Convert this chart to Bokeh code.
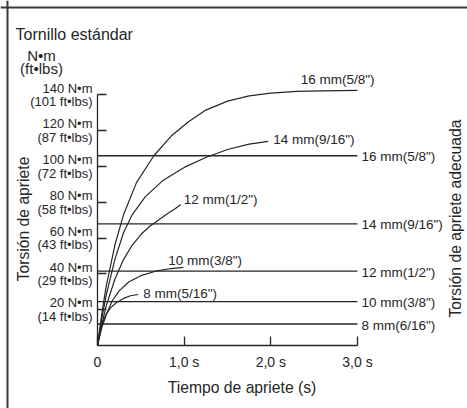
from math import pi
from bokeh.plotting import figure
from bokeh.models import LinearAxis, FixedTicker, Range1d, Label, Span, ColumnDataSource
from bokeh.embed import file_html
from bokeh.resources import INLINE
from bokeh.core.properties import value

# ---------------- data ----------------
title_text = "Tornillo estándar"
unit_top = "N•m"
unit_bottom = "(ft•lbs)"
y_title = "Torsión de apriete"
x_title = "Tiempo de apriete (s)"
right_title = "Torsión de apriete adecuada"

torque_ticks_nm = [20, 40, 60, 80, 100, 120, 140]
torque_ticks_ftlbs = [14, 29, 43, 58, 72, 87, 101]
time_ticks = [0, 1, 2, 3]
time_tick_labels = ["0", "1,0 s", "2,0 s", "3,0 s"]

# adequate torque reference lines
ref_labels = ['16 mm(5/8")', '14 mm(9/16")', '12 mm(1/2")', '10 mm(3/8")', '8 mm(6/16")']
ref_torque = [106, 68, 41.5, 24.5, 12]
ref_time_span = [0.0, 3.0]

# tightening curves (time s, torque N·m)
curve_labels = ['16 mm(5/8")', '14 mm(9/16")', '12 mm(1/2")', '10 mm(3/8")', '8 mm(5/16")']
t16 = [0, 0.05, 0.1, 0.2, 0.3, 0.45, 0.65, 0.85, 1.05, 1.25, 1.5, 1.75, 2.0, 2.3, 2.6, 3.0]
v16 = [0, 18, 33, 56, 73, 91, 106, 117, 125, 131.5, 136.5, 139.5, 141, 142, 142.3, 142.5]
t14 = [0, 0.05, 0.1, 0.2, 0.3, 0.4, 0.55, 0.75, 1.0, 1.25, 1.5, 1.75, 1.97]
v14 = [0, 15, 28, 48, 63, 73, 83, 92, 99.5, 105, 109.5, 112.5, 114]
t12 = [0, 0.05, 0.1, 0.2, 0.3, 0.4, 0.5, 0.6, 0.7, 0.8, 0.9, 0.96]
v12 = [0, 12, 22, 37, 48, 56, 62, 66.5, 70, 73.5, 76.5, 78.8]
t10 = [0, 0.05, 0.1, 0.17, 0.25, 0.36, 0.5, 0.67, 0.85, 0.99]
v10 = [0, 10, 17, 25, 30.5, 35.5, 39, 41.5, 43, 43.6]
t8 = [0, 0.03, 0.06, 0.1, 0.15, 0.22, 0.3, 0.38, 0.47]
v8 = [0, 8, 13, 17.5, 21, 24, 26.3, 27.8, 28.5]

curves_t = [t16, t14, t12, t10, t8]
curves_v = [v16, v14, v12, v10, v8]

# label styling (screen offsets) for curve labels
curve_label_align = ["right", "left", "left", "left", "left"]
curve_label_xoff = [17, 5, 3, -15, 5]
curve_label_yoff = [-11, -2, -5, -7, -1]

# ---------------- layout ----------------
W, H = 467, 408
PX_PER_S = 86.667       # pixels per second
PX_PER_NM = 1.79        # pixels per N·m
X0_PAGE, Y0_PAGE = 97, 345   # page pixel of origin


def dx(page_x):
    return (page_x - X0_PAGE) / PX_PER_S


def dy(page_y):
    return (Y0_PAGE - page_y) / PX_PER_NM


INK = "#262626"
FONT = "Liberation Sans"

p = figure(width=W, height=H, output_backend="svg", toolbar_location=None,
           x_range=Range1d(dx(0), dx(W)), y_range=Range1d(dy(H), dy(0)),
           x_axis_location=None, y_axis_location=None,
           min_border=0, min_border_left=0, min_border_right=0,
           min_border_top=0, min_border_bottom=0)
p.outline_line_color = None
p.xgrid.visible = False
p.ygrid.visible = False
p.background_fill_color = "white"
p.border_fill_color = "white"

# axes
yax = LinearAxis(fixed_location=0, bounds=(0, 140),
                 ticker=FixedTicker(ticks=torque_ticks_nm),
                 major_label_overrides={v: f"{v} N•m\n({f} ft•lbs)"
                                        for v, f in zip(torque_ticks_nm, torque_ticks_ftlbs)})
xax = LinearAxis(fixed_location=0, bounds=(0, 3),
                 ticker=FixedTicker(ticks=time_ticks),
                 major_label_overrides={v: s for v, s in zip(time_ticks, time_tick_labels)})
for ax, fs, so in ((yax, "13px", 5), (xax, "14px", 8)):
    ax.axis_line_color = INK
    ax.axis_line_width = 1.3
    ax.major_tick_line_color = INK
    ax.major_tick_line_width = 1.3
    ax.major_tick_in = 9
    ax.major_tick_out = 0
    ax.minor_tick_line_color = None
    ax.major_label_text_font = FONT
    ax.major_label_text_font_size = fs
    ax.major_label_text_color = INK
    ax.major_label_standoff = so
yax.major_label_text_line_height = 0.9
p.add_layout(yax, "left")
p.add_layout(xax, "below")

# reference (adequate torque) lines
ref_src = ColumnDataSource(dict(
    x0=[ref_time_span[0]] * len(ref_torque), x1=[ref_time_span[1]] * len(ref_torque),
    y=ref_torque, label=ref_labels))
p.segment(x0="x0", y0="y", x1="x1", y1="y", source=ref_src, line_color=INK, line_width=1.3)
p.text(x="x1", y="y", text="label", source=ref_src, text_font=value(FONT),
       text_font_size="13.5px", text_color=INK, text_align="left",
       text_baseline="middle", x_offset=4, y_offset=1)

# curves
for ts, vs in zip(curves_t, curves_v):
    p.line(ts, vs, line_color=INK, line_width=1.2)

end_src = ColumnDataSource(dict(
    x=[c[-1] for c in curves_t], y=[c[-1] for c in curves_v], label=curve_labels,
    align=curve_label_align, xo=curve_label_xoff, yo=curve_label_yoff))
p.text(x="x", y="y", text="label", source=end_src, text_font=value(FONT),
       text_font_size="13.5px", text_color=INK, text_align="align",
       text_baseline="middle", x_offset="xo", y_offset="yo")

# static texts
def add_label(txt, px, py, size, align="left", angle=0):
    p.add_layout(Label(x=dx(px), y=dy(py), text=txt, text_font=FONT, text_font_size=size,
                       text_color=INK, text_align=align, text_baseline="middle", angle=angle))


add_label(title_text, 15, 34, "16px")
add_label(unit_top, 41, 55, "15px", align="center")
add_label(unit_bottom, 41, 68, "15px", align="center")
add_label(x_title, 241.5, 387, "15.7px", align="center")
add_label(y_title, 22.5, 218.5, "15.7px", align="center", angle=pi / 2)
add_label(right_title, 455, 218, "15.7px", align="center", angle=pi / 2)

# frame lines (top and left)
p.add_layout(Span(location=dy(7), dimension="width", line_color="#3a3a3a", line_width=2))
p.add_layout(Span(location=dx(7), dimension="height", line_color="#3a3a3a", line_width=2))

open("out.html", "w").write(file_html(p, INLINE))
